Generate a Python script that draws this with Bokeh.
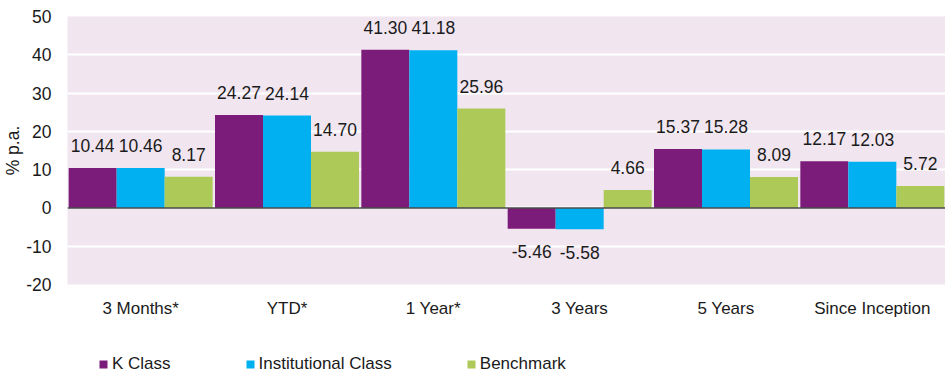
from bokeh.plotting import figure
from bokeh.layouts import column
from bokeh.models import (ColumnDataSource, FactorRange, FixedTicker, Span, Legend, LegendItem,
                          PrintfTickFormatter, Range1d)
from bokeh.transform import dodge
from bokeh.core.properties import value
from bokeh.embed import file_html
from bokeh.resources import INLINE

categories = ["3 Months*", "YTD*", "1 Year*", "3 Years", "5 Years", "Since Inception"]
k_class = [10.44, 24.27, 41.30, -5.46, 15.37, 12.17]
institutional = [10.46, 24.14, 41.18, -5.58, 15.28, 12.03]
benchmark = [8.17, 14.70, 25.96, 4.66, 8.09, 5.72]
series_names = ["K Class", "Institutional Class", "Benchmark"]
y_ticks = [-20, -10, 0, 10, 20, 30, 40, 50]

colors = ["#7B1B7A", "#00B0F0", "#ADC958"]
FONT = "Liberation Sans"
TXT = "#1a1a1a"

def offs(vals):
    return [-22.5 if v >= 0 else 23 for v in vals]

src = ColumnDataSource(dict(
    cats=categories,
    k=k_class, i=institutional, b=benchmark,
    k_l=[f"{v:.2f}" for v in k_class],
    i_l=[f"{v:.2f}" for v in institutional],
    b_l=[f"{v:.2f}" for v in benchmark],
    k_o=offs(k_class), i_o=offs(institutional), b_o=offs(benchmark),
))

p = figure(width=945, height=340, output_backend="svg", toolbar_location=None,
           x_range=FactorRange(factors=categories, range_padding=0),
           y_range=(-20, 50),
           min_border_left=67, min_border_right=0, min_border_top=16, min_border_bottom=56)

p.background_fill_color = "#F1E6F0"
p.border_fill_color = "white"
p.outline_line_color = None

w = 0.328
for key, off, col in zip(["k", "i", "b"], [-w, 0, w], colors):
    p.vbar(x=dodge("cats", off, range=p.x_range), top=key, bottom=0, width=w,
           source=src, fill_color=col, line_color=None)
    p.text(x=dodge("cats", off, range=p.x_range), y=key, text=key + "_l", y_offset=key + "_o",
           source=src, text_align="center", text_baseline="alphabetic",
           text_font=value(FONT), text_font_size="17.5px", text_color=TXT)

p.add_layout(Span(location=0, dimension="width", line_color="#4a4a4a", line_width=1.5))

p.xgrid.grid_line_color = None
p.ygrid.grid_line_color = "white"
p.ygrid.grid_line_width = 2
p.ygrid.ticker = FixedTicker(ticks=y_ticks)

p.yaxis.ticker = FixedTicker(ticks=y_ticks)
p.yaxis.formatter = PrintfTickFormatter(format="%d")
p.yaxis.axis_line_color = None
p.yaxis.major_tick_line_color = None
p.yaxis.minor_tick_line_color = None
p.yaxis.major_label_standoff = 10
p.yaxis.major_label_text_font = FONT
p.yaxis.major_label_text_font_size = "17.5px"
p.yaxis.major_label_text_color = TXT
p.yaxis.axis_label = "% p.a."
p.yaxis.axis_label_text_font = FONT
p.yaxis.axis_label_text_font_style = "normal"
p.yaxis.axis_label_text_font_size = "17.5px"
p.yaxis.axis_label_text_color = TXT
p.yaxis.axis_label_standoff = 0

p.xaxis.axis_line_color = None
p.xaxis.major_tick_line_color = None
p.xaxis.minor_tick_line_color = None
p.xaxis.major_label_standoff = 8
p.xaxis.major_label_text_font = FONT
p.xaxis.major_label_text_font_size = "17px"
p.xaxis.major_label_text_color = TXT

# legend strip (swatches come from off-view placeholder bars)
lg = figure(width=945, height=35, output_backend="svg", toolbar_location=None,
            x_axis_type=None, y_axis_type=None,
            x_range=Range1d(0, 1), y_range=Range1d(0, 1),
            min_border_left=0, min_border_right=0, min_border_top=0, min_border_bottom=0)
lg.grid.visible = False
lg.outline_line_color = None
lg.background_fill_color = "white"
lg.border_fill_color = "white"
hidden = ColumnDataSource(dict(x=[5.0], top=[5.0]))
dummies = [lg.vbar(x="x", top="top", bottom=4.0, width=0.1, source=hidden, fill_color=c, line_color=None)
           for c in colors]
legend = Legend(items=[LegendItem(label=n, renderers=[r]) for n, r in zip(series_names, dummies)],
                orientation="horizontal", location=(31, 1),
                glyph_width=10, glyph_height=10, label_standoff=4, spacing=74,
                padding=0, margin=0, border_line_color=None, background_fill_alpha=0,
                label_text_font=FONT, label_text_font_size="17px", label_text_color=TXT,
                label_height=20)
lg.add_layout(legend, "center")

layout = column(p, lg, spacing=0)
open("out.html", "w").write(file_html(layout, INLINE))
